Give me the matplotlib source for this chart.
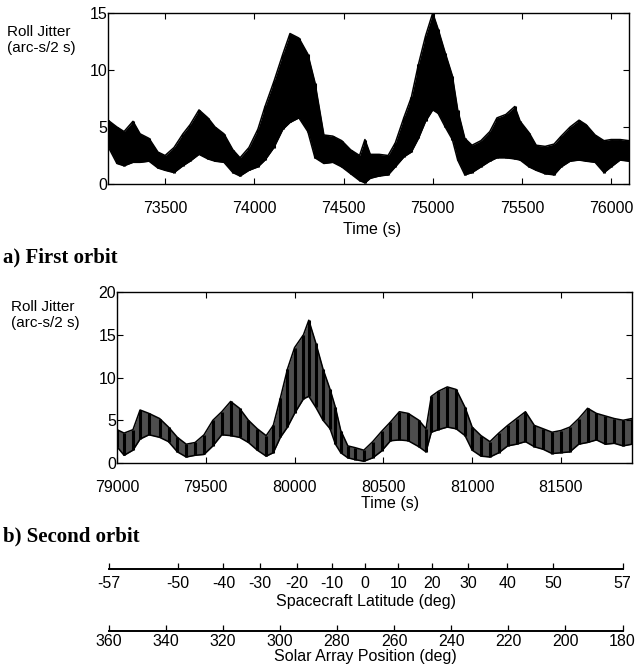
"""Roll jitter over two orbits, with latitude / solar array position scales."""

import matplotlib.pyplot as plt

plt.rcParams["font.family"] = ["Liberation Sans", "DejaVu Sans"]

# ── First orbit: time (s), lower / upper envelope of roll jitter (arc-s/2 s) ──
t1 = [73180, 73230, 73270, 73320, 73360, 73410, 73460, 73500, 73550, 73600,
      73640, 73690, 73740, 73780, 73830, 73880, 73920, 73970, 74020, 74060,
      74110, 74160, 74200, 74250, 74300, 74340, 74390, 74440, 74490, 74540,
      74590, 74620, 74650, 74700, 74750, 74790, 74840, 74880, 74920, 74960,
      75000, 75030, 75070, 75110, 75140, 75180, 75220, 75270, 75320, 75360,
      75410, 75460, 75490, 75540, 75580, 75630, 75680, 75720, 75770, 75820,
      75860, 75910, 75960, 76000, 76050, 76100]
lo1 = [3.3, 1.8, 1.6, 1.9, 1.9, 2.0, 1.4, 1.2, 1.0, 1.6,
       2.0, 2.6, 2.2, 2.0, 1.9, 1.0, 0.7, 1.2, 1.5, 2.1,
       3.2, 4.8, 5.4, 5.8, 4.6, 2.3, 1.8, 1.9, 1.5, 0.9,
       0.3, 0.1, 0.5, 0.7, 0.8, 1.5, 2.4, 2.8, 4.0, 5.5,
       6.5, 6.2, 5.0, 3.9, 2.1, 0.8, 1.0, 1.5, 2.0, 2.3,
       2.3, 2.2, 2.1, 1.5, 1.2, 0.9, 0.8, 1.5, 2.0, 2.1,
       2.0, 1.9, 1.0, 1.5, 2.1, 2.0]
hi1 = [5.6, 5.0, 4.6, 5.5, 4.4, 4.0, 2.8, 2.5, 3.2, 4.4,
       5.2, 6.5, 5.8, 5.0, 4.4, 3.0, 2.3, 3.2, 4.8, 6.8,
       9.0, 11.4, 13.2, 12.8, 11.4, 8.9, 4.3, 4.2, 3.8, 3.0,
       2.5, 3.9, 2.6, 2.6, 2.5, 3.6, 5.9, 7.6, 10.5, 13.0,
       15.0, 13.6, 11.5, 9.5, 6.5, 4.0, 3.4, 3.8, 4.6, 5.8,
       6.1, 6.8, 5.5, 4.5, 3.4, 3.3, 3.5, 4.2, 5.0, 5.6,
       5.2, 4.3, 3.8, 3.9, 3.9, 3.8]

# ── Second orbit ──
t2 = [79000, 79040, 79090, 79130, 79180, 79240, 79290, 79340, 79390, 79440,
      79490, 79540, 79590, 79640, 79690, 79740, 79790, 79840, 79880, 79920,
      79960, 80000, 80050, 80080, 80120, 80160, 80200, 80230, 80260, 80300,
      80340, 80390, 80440, 80490, 80540, 80590, 80640, 80700, 80740, 80770,
      80810, 80860, 80910, 80960, 81000, 81050, 81100, 81150, 81200, 81250,
      81300, 81350, 81400, 81450, 81500, 81550, 81600, 81650, 81700, 81750,
      81800, 81850, 81900]
lo2 = [1.9, 0.9, 1.5, 2.8, 3.3, 3.0, 2.5, 1.3, 0.7, 0.9,
       1.0, 2.0, 3.3, 3.2, 3.0, 2.4, 1.5, 0.8, 1.2, 3.0,
       4.2, 5.8, 7.5, 7.8, 6.5, 5.0, 4.0, 2.2, 1.2, 0.6,
       0.4, 0.2, 0.6, 1.4, 2.6, 2.7, 2.6, 1.9, 1.3, 3.6,
       3.9, 4.2, 4.0, 3.2, 1.5, 0.8, 0.7, 1.2, 2.0, 2.2,
       2.5, 1.9, 1.6, 1.1, 1.2, 1.3, 2.2, 2.4, 2.7, 2.2,
       2.3, 2.0, 2.2]
hi2 = [3.9, 3.5, 3.9, 6.2, 5.8, 5.2, 4.2, 3.0, 2.2, 2.4,
       3.3, 5.0, 6.0, 7.2, 6.4, 5.0, 4.0, 3.2, 4.4, 7.6,
       11.0, 13.5, 15.0, 16.7, 14.0, 11.0, 8.6, 6.5, 3.8, 2.0,
       1.8, 1.5, 2.5, 3.7, 4.8, 6.0, 5.8, 5.0, 4.0, 7.8,
       8.4, 8.9, 8.6, 6.5, 4.2, 3.2, 2.5, 3.5, 4.4, 5.2,
       6.0, 4.4, 4.0, 3.6, 3.8, 4.2, 5.2, 6.4, 5.8, 5.5,
       5.2, 5.0, 5.2]

# ── Orbit scales: latitude ticks sit where the solar array reaches that angle ──
lat_labels = [-57, -50, -40, -30, -20, -10, 0, 10, 20, 30, 40, 50, 57]
lat_at_solar = [360, 335.8, 319.8, 307.0, 294.1, 281.9, 270.2,
                258.5, 246.8, 234.0, 220.3, 204.2, 180]
solar_ticks = [360, 340, 320, 300, 280, 260, 240, 220, 200, 180]

W, H = 639, 667
fig = plt.figure(figsize=(W / 100, H / 100), dpi=100)
fig.patch.set_facecolor("white")


def box(left, top, right, bottom):
    return [left / W, 1 - bottom / H, (right - left) / W, (bottom - top) / H]


def jitter_panel(rect, t, lo, hi, xlim, ylim, xticks, yticks, fill, stroke):
    ax = fig.add_axes(rect)
    ax.fill_between(t, lo, hi, color=fill, lw=0)
    ax.vlines(t, lo, hi, color=stroke, lw=2.2)
    ax.plot(t, lo, color="black", lw=1.1)
    ax.plot(t, hi, color="black", lw=1.1)
    ax.set_xlim(xlim)
    ax.set_ylim(ylim)
    ax.set_xticks(xticks)
    ax.set_yticks(yticks)
    ax.tick_params(direction="in", top=True, right=True, length=4.5,
                   width=0.8, labelsize=11.5)
    ax.tick_params(axis="x", pad=12)
    ax.tick_params(axis="y", pad=0.5)
    for s in ax.spines.values():
        s.set_linewidth(1.0)
    ax.set_xlabel("Time (s)", fontsize=11.5)
    return ax


ax1 = jitter_panel(box(108, 13, 629, 184), t1, lo1, hi1, (73180, 76100), (0, 15),
                   [73500, 74000, 74500, 75000, 75500, 76000], [0, 5, 10, 15],
                   "black", "black")
ax1.xaxis.set_label_coords((372 - 108) / 521, (184 - 222) / 171)

ax2 = jitter_panel(box(117, 292, 632, 463), t2, lo2, hi2, (79000, 81900), (0, 20),
                   [79000, 79500, 80000, 80500, 81000, 81500], [0, 5, 10, 15, 20],
                   "#4e4e4e", "black")
ax2.xaxis.set_label_coords((390 - 117) / 515, (463 - 496) / 171)

fig.text(7 / W, 1 - 25 / H, "Roll Jitter\n(arc-s/2 s)", ha="left", va="top", fontsize=11)
fig.text(11 / W, 1 - 300 / H, "Roll Jitter\n(arc-s/2 s)", ha="left", va="top", fontsize=11)

serif = ["Liberation Serif", "DejaVu Serif"]
fig.text(3 / W, 1 - 257 / H, "a) First orbit", ha="left", va="center",
         fontsize=15, fontweight="bold", family=serif)
fig.text(3 / W, 1 - 536 / H, "b) Second orbit", ha="left", va="center",
         fontsize=15, fontweight="bold", family=serif)


def scale_axis(ypix, ticks, labels, title, tick_len, pad, labelpad):
    ax = fig.add_axes([108.7 / W, 1 - ypix / H, (622.5 - 108.7) / W, 0.0001])
    ax.set_xlim(360, 180)
    for side in ("top", "left", "right"):
        ax.spines[side].set_visible(False)
    ax.spines["bottom"].set_linewidth(1.4)
    ax.set_yticks([])
    ax.set_xticks(ticks)
    ax.set_xticklabels(labels)
    ax.tick_params(axis="x", direction="in", length=tick_len, width=0.9,
                   labelsize=11.5, pad=pad)
    ax.set_xlabel(title, fontsize=11.5, labelpad=labelpad)
    ax.patch.set_visible(False)
    return ax


scale_axis(569, lat_at_solar, [str(v) for v in lat_labels],
           "Spacecraft Latitude (deg)", 4.5, 5, 2)
scale_axis(631, solar_ticks, [str(v) for v in solar_ticks],
           "Solar Array Position (deg)", 4, 2, 0)

fig.savefig("out.png", dpi=100, facecolor="white")
